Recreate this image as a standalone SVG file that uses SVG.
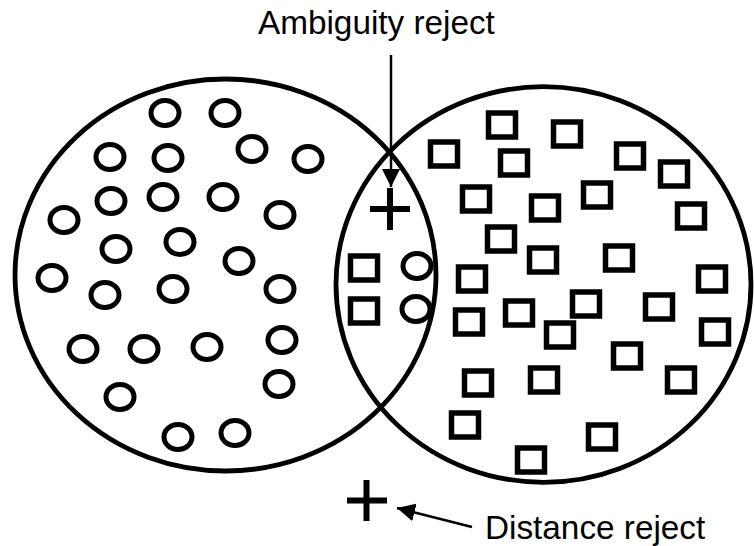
<svg xmlns="http://www.w3.org/2000/svg" xmlns:xlink="http://www.w3.org/1999/xlink" width="754" height="546" viewBox="0 0 754 546">
<style>
.region{fill:none;stroke:#000;stroke-width:4.8}
.o{fill:none;stroke:#000;stroke-width:5}
.sq{fill:none;stroke:#000;stroke-width:5.5}
.plus{stroke:#000;stroke-width:6;fill:none}
.conn{stroke:#000;stroke-width:2.5;fill:none}
.lbl{font-family:"Liberation Sans",Arial,sans-serif;font-size:33.3px;fill:#000}
</style>
<defs>
<ellipse id="c" cx="0" cy="0" rx="14" ry="12.5" class="o"/>
<rect id="s" x="-13.5" y="-12" width="27" height="24" class="sq"/>
<marker id="ah" markerUnits="userSpaceOnUse" markerWidth="18" markerHeight="18" refX="18" refY="9" orient="auto">
<path d="M0,0 L18,9 L0,18 z" fill="#000"/>
</marker>
</defs>
<rect width="754" height="546" fill="#fff"/>
<g id="class-circles">
<ellipse class="region" cx="225.5" cy="275" rx="210.5" ry="196"/>
</g>
<g id="class-squares">
<ellipse class="region" cx="543.5" cy="284.5" rx="207.5" ry="197.8"/>
</g>
<g id="circle-samples">
<use href="#c" x="165" y="113"/><use href="#c" x="225" y="113"/><use href="#c" x="252" y="149"/><use href="#c" x="308" y="159"/>
<use href="#c" x="110" y="157"/><use href="#c" x="168" y="158"/><use href="#c" x="111" y="201"/><use href="#c" x="163" y="197"/>
<use href="#c" x="223" y="197"/><use href="#c" x="280" y="215"/><use href="#c" x="64" y="220"/><use href="#c" x="116" y="249"/>
<use href="#c" x="180" y="242"/><use href="#c" x="239" y="261"/><use href="#c" x="52" y="278"/><use href="#c" x="105" y="295"/>
<use href="#c" x="173" y="289"/><use href="#c" x="280" y="289"/><use href="#c" x="83" y="349"/><use href="#c" x="144" y="349"/>
<use href="#c" x="207" y="347"/><use href="#c" x="282" y="340"/><use href="#c" x="279" y="384"/><use href="#c" x="120" y="397"/>
<use href="#c" x="178" y="437"/><use href="#c" x="235" y="433"/>
<use href="#c" x="417" y="266"/><use href="#c" x="416" y="309"/>
</g>
<g id="square-samples">
<use href="#s" x="502" y="125"/><use href="#s" x="567" y="134"/><use href="#s" x="444" y="154"/><use href="#s" x="514" y="163"/>
<use href="#s" x="630" y="156"/><use href="#s" x="674" y="174"/><use href="#s" x="476" y="199"/><use href="#s" x="545" y="208"/>
<use href="#s" x="597" y="195"/><use href="#s" x="691" y="216"/><use href="#s" x="501" y="239"/><use href="#s" x="543" y="260"/>
<use href="#s" x="619" y="258"/><use href="#s" x="712" y="279"/><use href="#s" x="472" y="279"/><use href="#s" x="364" y="268"/>
<use href="#s" x="364" y="311"/><use href="#s" x="519" y="313"/><use href="#s" x="586" y="304"/><use href="#s" x="659" y="307"/>
<use href="#s" x="469" y="322"/><use href="#s" x="560" y="335"/><use href="#s" x="715" y="332"/><use href="#s" x="627" y="356"/>
<use href="#s" x="544" y="380"/><use href="#s" x="478" y="383"/><use href="#s" x="681" y="380"/><use href="#s" x="465" y="425"/>
<use href="#s" x="602" y="437"/><use href="#s" x="531" y="460"/>
</g>
<g id="ambiguity-point">
<path class="plus" d="M370,209 H410 M390,188 V230"/>
</g>
<g id="distance-point">
<path class="plus" d="M347,500.5 H387 M366.5,480 V521"/>
</g>
<g id="connectors">
<line class="conn" x1="391" y1="55" x2="391" y2="187" marker-end="url(#ah)"/>
<line class="conn" x1="472" y1="527" x2="397" y2="508" marker-end="url(#ah)"/>
</g>
<g id="labels">
<text class="lbl" x="258" y="34">Ambiguity reject</text>
<text class="lbl" x="485" y="539">Distance reject</text>
</g>
</svg>
